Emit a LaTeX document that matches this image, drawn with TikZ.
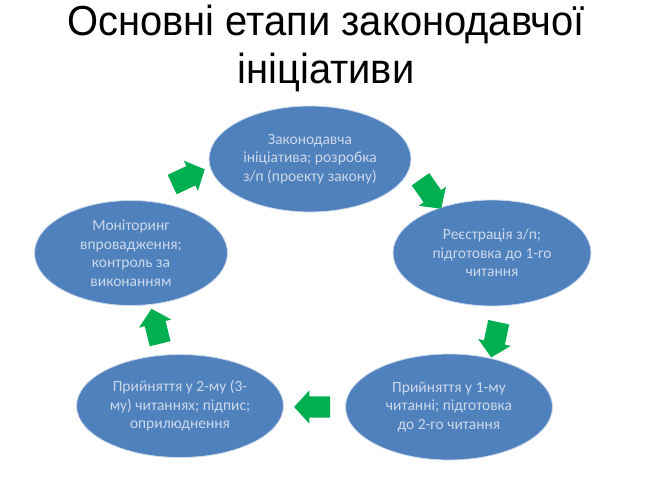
\documentclass[tikz,border=0pt]{standalone}
\usepackage{fontspec}
\setmainfont{Carlito}
\newfontfamily\titlefont[FakeStretch=0.95]{Liberation Sans}
\usetikzlibrary{shapes.geometric,shapes.arrows}
\definecolor{stageblue}{RGB}{79,129,189}
\definecolor{stagetext}{RGB}{205,216,234}
\definecolor{stageedge}{RGB}{205,218,236}
\definecolor{stepgreen}{RGB}{0,176,80}
\tikzset{
  stage/.style={ellipse, fill=stageblue, draw=stageedge, line width=0.8pt,
    inner sep=0pt, align=center, text=stagetext,
    font=\fontsize{15.5}{18.5}\selectfont},
  blockarrow/.style={single arrow, fill=stepgreen, draw=none,
    inner xsep=0pt, inner ysep=10.5pt, minimum width=0pt,
    minimum height=36pt, single arrow head extend=6pt,
    single arrow tip angle=95}
}

\begin{document}
\begin{tikzpicture}[x=1pt,y=-1pt]
    \useasboundingbox (0,0) rectangle (651,487);
    \node[font=\titlefont\fontsize{42}{48}\selectfont, align=center] (title) at (326,48)
      {Основні етапи законодавчої\\ ініціативи};

    \node[stage, minimum width=202pt, minimum height=106pt] (init) at (310,159)
      {Законодавча\\ ініціатива; розробка\\ з/п (проекту закону)};
    \node[stage, minimum width=198pt, minimum height=106pt] (reg) at (492,253)
      {Реєстрація з/п;\\ підготовка до 1-го\\ читання};
    \node[stage, minimum width=207pt, minimum height=106pt] (first) at (449,407)
      {Прийняття у 1-му\\ читанні; підготовка\\ до 2-го читання};
    \node[stage, minimum width=207pt, minimum height=103pt] (second) at (180,406)
      {Прийняття у 2-му (3-\\ му) читаннях; підпис;\\ оприлюднення};
    \node[stage, minimum width=193pt, minimum height=105pt] (monitor) at (131,253)
      {Моніторинг\\ впровадження;\\ контроль за\\ виконанням};

    \node[blockarrow, rotate=25] (a1) at (184,179) {};
    \node[blockarrow, rotate=-55] (a2) at (428,190) {};
    \node[blockarrow, rotate=-102] (a3) at (496,335) {};
    \node[blockarrow, rotate=180] (a4) at (317,407) {};
    \node[blockarrow, rotate=104] (a5) at (157,331) {};
\end{tikzpicture}
\end{document}
